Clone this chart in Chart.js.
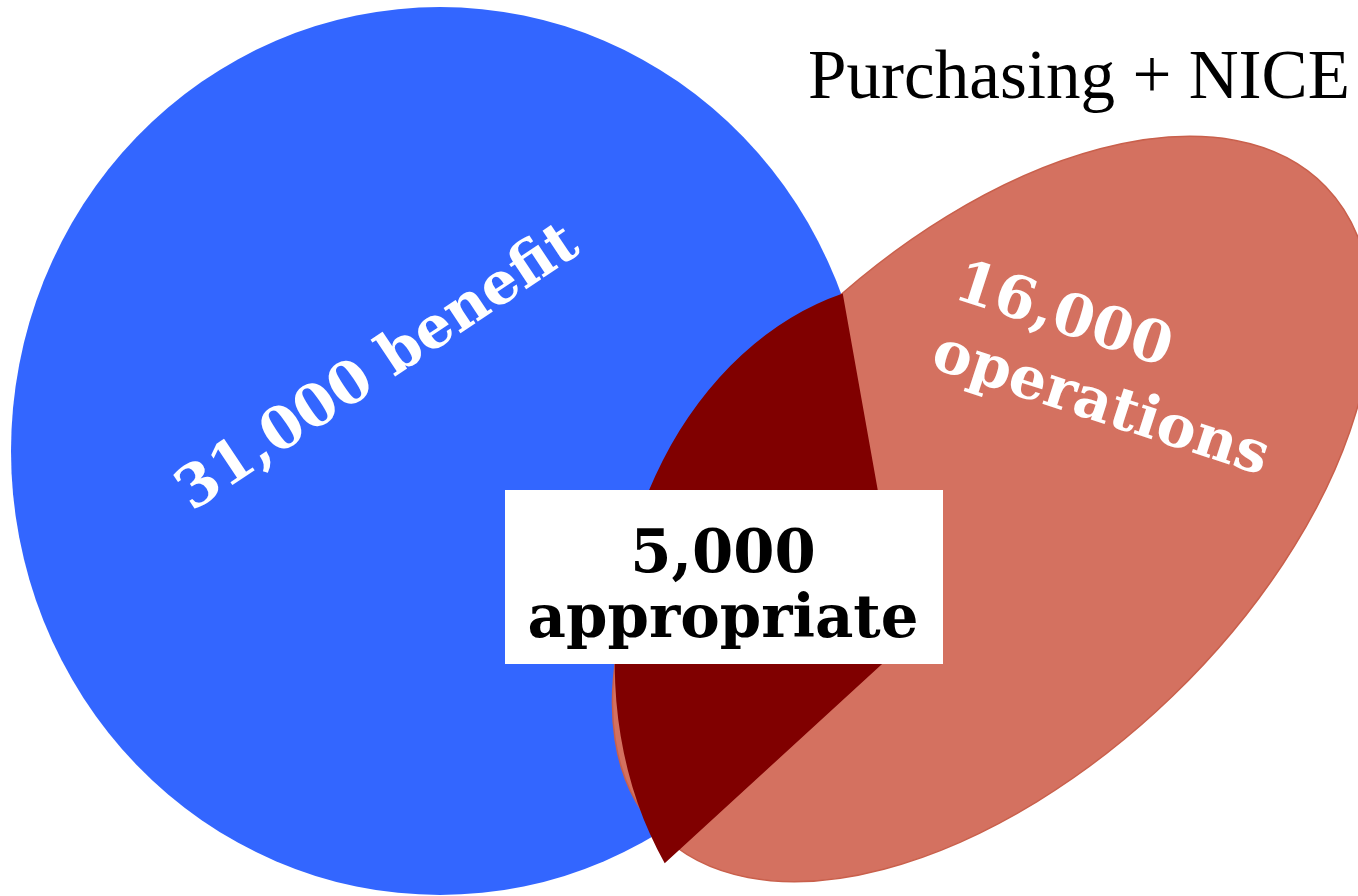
<!DOCTYPE html>
<html>
<head>
<meta charset="utf-8">
<style>
  html, body { margin: 0; padding: 0; background: #ffffff; overflow: hidden; }
  #wrap { width: 1358px; height: 896px; position: relative; }
</style>
<script src="https://cdn.jsdelivr.net/npm/chart.js@4.4.1/dist/chart.umd.min.js"></script>
</head>
<body>
<div id="wrap"><canvas id="venn" width="1358" height="896"></canvas></div>
<script>
// ---------------- data ----------------
const categories = ['benefit', 'operations', 'appropriate'];
const counts = [31000, 16000, 5000];
const chartTitle = 'Purchasing + NICE';

// ---------------- layout (in plot units of the 1358 x 896 frame) ----------------
const frame = { w: 1358, h: 896 };
const shapeLayout = {
  benefit:     { kind: 'ellipse', cx: 440, cy: 451, rx: 429, ry: 444, rotDeg: 0 },
  operations:  { kind: 'ellipse', cx: 992, cy: 509, rx: 464, ry: 260, rotDeg: -44 },
  appropriate: { kind: 'sector',  cx: 905, cy: 643, rx: 364, ry: 289, rotDeg: 97, fromDeg: 137.5, toDeg: 259.9 }
};
const styleLayout = {
  benefit:     { fill: '#3366FF', stroke: null },
  operations:  { fill: '#D47160', stroke: '#C9604C' },
  appropriate: { fill: '#800000', stroke: null }
};
const labelLayout = {
  benefit:     { x: 192, y: 512, rotDeg: -33.7, width: 469, align: 'left', lineGap: 0, color: '#ffffff', split: false },
  operations:  { x: 929, y: 367, rotDeg: 18, width: 350, align: 'left', lineGap: 73, color: '#ffffff', split: true },
  appropriate: { x: 723, y: 637, rotDeg: 0, width: 391, align: 'center', lineGap: 65, color: '#000000', split: true,
                 box: { x0: 505, y0: 490, x1: 943, y1: 664 } }
};
const titleLayout = { x: 808, y: 98, width: 542 };

const fmt = n => n.toLocaleString('en-US');

const vennPlugin = {
  id: 'vennPlugin',
  beforeDatasetsDraw(chart) {
    const ctx = chart.ctx;
    const sx = chart.scales.x, sy = chart.scales.y;
    const px = v => sx.getPixelForValue(v);
    const py = v => sy.getPixelForValue(v);
    const lx = d => Math.abs(sx.getPixelForValue(d) - sx.getPixelForValue(0));
    const ly = d => Math.abs(sy.getPixelForValue(d) - sy.getPixelForValue(0));
    categories.forEach((cat, i) => {
      const s = shapeLayout[cat];
      const st = styleLayout[cat];
      const cx = px(s.cx), cy = py(s.cy), a = lx(s.rx), b = ly(s.ry);
      const rot = s.rotDeg * Math.PI / 180;
      ctx.save();
      ctx.beginPath();
      if (s.kind === 'ellipse') {
        ctx.ellipse(cx, cy, a, b, rot, 0, Math.PI * 2);
      } else {
        const toT = th => {
          const al = th * Math.PI / 180 - rot;
          return Math.atan2(a * Math.sin(al), b * Math.cos(al));
        };
        let t1 = toT(s.fromDeg), t2 = toT(s.toDeg);
        if (t2 < t1) t2 += Math.PI * 2;
        ctx.moveTo(cx, cy);
        ctx.ellipse(cx, cy, a, b, rot, t1, t2, false);
        ctx.closePath();
      }
      ctx.fillStyle = st.fill;
      ctx.fill();
      if (st.stroke) {
        ctx.lineWidth = 1.5;
        ctx.strokeStyle = st.stroke;
        ctx.stroke();
      }
      ctx.restore();
    });
  },
  afterDatasetsDraw(chart) {
    const ctx = chart.ctx;
    const sx = chart.scales.x, sy = chart.scales.y;
    const px = v => sx.getPixelForValue(v);
    const py = v => sy.getPixelForValue(v);
    const boldFam = '"DejaVu Serif", "Liberation Serif", serif';
    categories.forEach((cat, i) => {
      const L = labelLayout[cat];
      const lines = L.split ? [fmt(counts[i]), cat] : [fmt(counts[i]) + ' ' + cat];
      if (L.box) {
        ctx.save();
        ctx.fillStyle = '#ffffff';
        ctx.fillRect(px(L.box.x0), py(L.box.y0), px(L.box.x1) - px(L.box.x0), py(L.box.y1) - py(L.box.y0));
        ctx.restore();
      }
      ctx.save();
      ctx.font = 'bold 100px ' + boldFam;
      const longest = lines[lines.length - 1];
      const w100 = ctx.measureText(longest).width;
      const size = 100 * L.width / w100;
      ctx.font = 'bold ' + size.toFixed(2) + 'px ' + boldFam;
      ctx.translate(px(L.x), py(L.y));
      ctx.rotate(L.rotDeg * Math.PI / 180);
      ctx.fillStyle = L.color;
      ctx.textAlign = L.align;
      ctx.textBaseline = 'alphabetic';
      const n = lines.length;
      lines.forEach((t, k) => {
        ctx.fillText(t, 0, -(n - 1 - k) * L.lineGap);
      });
      ctx.restore();
    });
    // title
    ctx.save();
    const fam = '"Liberation Serif", "DejaVu Serif", serif';
    ctx.font = '100px ' + fam;
    const tw = ctx.measureText(chartTitle).width;
    const ts = 100 * titleLayout.width / tw;
    ctx.font = ts.toFixed(2) + 'px ' + fam;
    ctx.fillStyle = '#000000';
    ctx.textAlign = 'left';
    ctx.textBaseline = 'alphabetic';
    ctx.fillText(chartTitle, px(titleLayout.x), py(titleLayout.y));
    ctx.restore();
  }
};

new Chart(document.getElementById('venn'), {
  type: 'scatter',
  data: {
    datasets: categories.map((cat, i) => ({
      label: cat,
      data: [{ x: shapeLayout[cat].cx, y: shapeLayout[cat].cy }],
      pointRadius: 0,
      pointHoverRadius: 0,
      showLine: false
    }))
  },
  options: {
    responsive: false,
    animation: false,
    devicePixelRatio: 1,
    layout: { padding: 0 },
    scales: {
      x: { type: 'linear', min: 0, max: frame.w, display: false },
      y: { type: 'linear', min: 0, max: frame.h, reverse: true, display: false }
    },
    plugins: { legend: { display: false }, tooltip: { enabled: false }, title: { display: false } }
  },
  plugins: [vennPlugin]
});
</script>
</body>
</html>
